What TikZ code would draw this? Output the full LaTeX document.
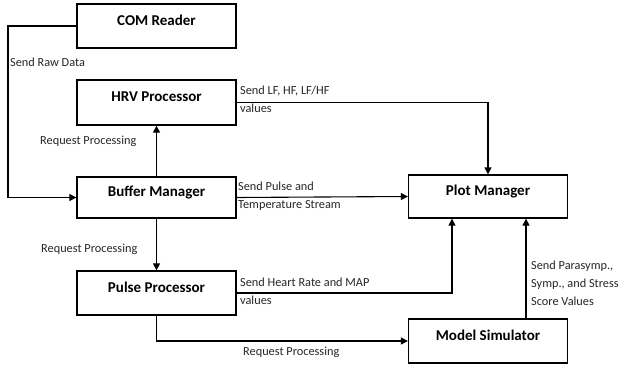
\documentclass[tikz,border=0pt]{standalone}
\usepackage{fontspec}
\setmainfont{Carlito}
\usetikzlibrary{arrows.meta}
\begin{document}
\begin{tikzpicture}[x=1pt,y=-1pt,
  block/.style={draw, line width=1.3pt, minimum width=159pt, minimum height=44pt,
    inner sep=0pt, text height=8pt, text depth=10pt,
    font=\fontsize{15}{18}\selectfont\bfseries},
  lbl/.style={anchor=west, inner sep=0pt, align=left, text=black!85,
    font=\fontsize{12.3}{18}\selectfont},
  link/.style={line width=1.1pt},
  arr/.style={link, -{Triangle[length=7pt,width=7pt]}}]
\useasboundingbox (0,0) rectangle (625,367);

% components
\node[block] (com)   at (156.5,26)  {COM Reader};
\node[block, minimum height=45pt] (hrv) at (156.5,102.5) {HRV Processor};
\node[block, minimum height=41pt] (buf) at (156.5,197.5) {Buffer Manager};
\node[block] (pulse) at (156.5,293) {Pulse Processor};
\node[block, minimum height=43pt] (plot) at (488,196.5) {Plot Manager};
\node[block] (model) at (488,341) {Model Simulator};

% helper coordinates for bends
\coordinate (rawx) at (8,0);

% connectors
\draw[arr] (com.west) -- (com.west -| rawx) |- (buf.west);
\draw[arr] (buf.north) -- (hrv.south);
\draw[arr] (buf.south) -- (pulse.south |- pulse.north);
\draw[arr] (hrv.east) -| (plot.north);
\draw[arr] (buf.east) -- (plot.west);
\draw[arr] (pulse.east) -| ([xshift=-36pt]plot.south);
\draw[arr] ([xshift=38pt]model.north) -- ([xshift=38pt]plot.south);
\draw[arr] (pulse.south) |- (model.west);

% connector labels
\node[lbl] (l1) at (10,62) {Send Raw Data};
\node[lbl] (l2) at (240,99) {Send LF, HF, LF/HF\\values};
\node[lbl] (l3) at (40,141) {Request Processing};
\node[lbl] (l4) at (238,196) {Send Pulse and\\Temperature Stream};
\node[lbl] (l5) at (41,249) {Request Processing};
\node[lbl] (l6) at (240,291) {Send Heart Rate and MAP\\values};
\node[lbl] (l7) at (243,352) {Request Processing};
\node[lbl] (l8) at (531,283) {Send Parasymp.,\\Symp., and Stress\\Score Values};
\end{tikzpicture}
\end{document}
